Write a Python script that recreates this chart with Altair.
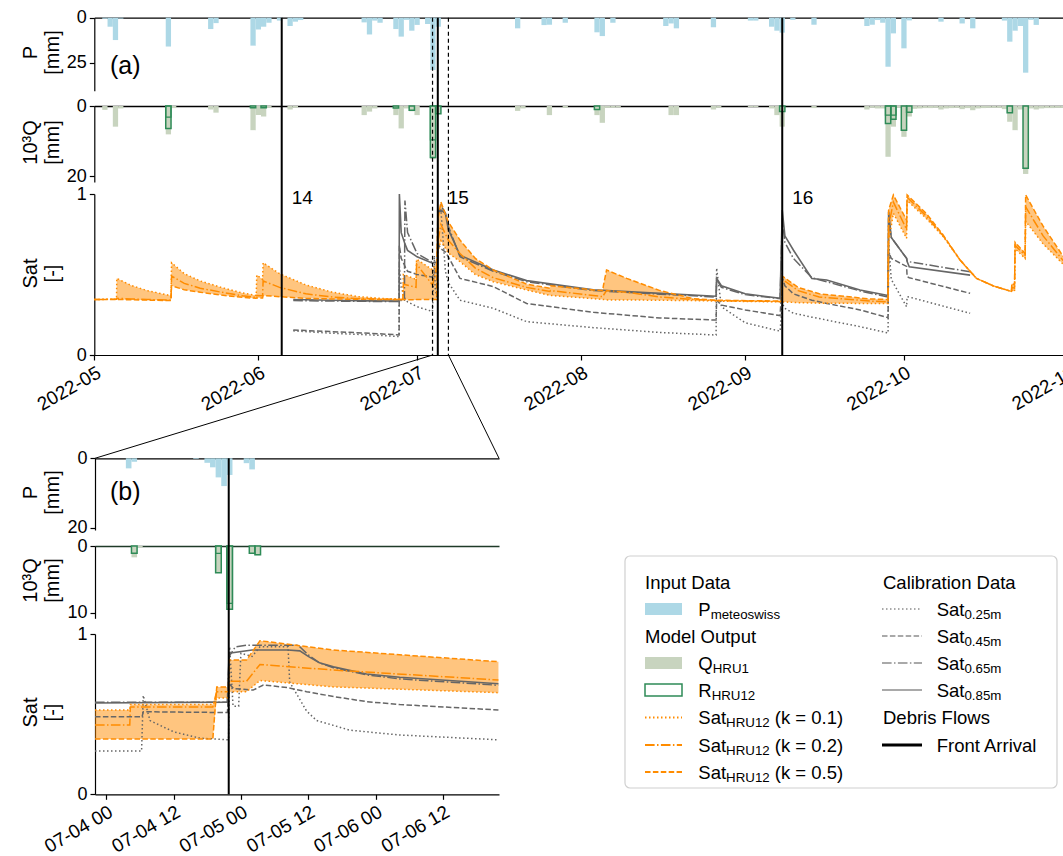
import altair as alt
import pandas as pd

FONT = "Liberation Sans"
W, H = 1063, 856

# ============================ DATA ============================
# (a) daily precipitation [mm] (bar centred on the date)
p_a_dates = ["2022-05-03", "2022-05-04", "2022-05-05", "2022-05-06", "2022-05-15", "2022-05-23", "2022-05-24",
             "2022-05-31", "2022-06-01", "2022-06-02", "2022-06-03", "2022-06-05", "2022-06-07", "2022-06-08", "2022-06-09",
             "2022-06-21", "2022-06-22", "2022-06-23", "2022-06-24", "2022-06-27", "2022-06-28", "2022-06-29", "2022-06-30",
             "2022-07-01", "2022-07-03", "2022-07-04", "2022-07-05", "2022-07-20", "2022-07-25", "2022-07-26", "2022-07-29",
             "2022-08-04", "2022-08-05", "2022-08-07", "2022-08-17", "2022-08-18", "2022-08-19", "2022-08-26",
             "2022-09-02", "2022-09-03", "2022-09-06", "2022-09-07", "2022-09-08", "2022-09-10", "2022-09-14",
             "2022-09-24", "2022-09-25", "2022-09-26", "2022-09-27", "2022-09-28", "2022-09-29", "2022-10-01", "2022-10-02",
             "2022-10-08", "2022-10-12", "2022-10-14", "2022-10-20", "2022-10-21", "2022-10-22", "2022-10-23", "2022-10-24",
             "2022-10-25", "2022-10-26"]
p_a_mm = [0.6, 5, 12.4, 0.5, 16, 6.3, 3,
          15.5, 6.5, 5, 2.8, 1.6, 4.6, 2.2, 1.3,
          2.6, 9.3, 1.6, 2.8, 6.3, 10.5, 1.2, 7.2,
          4, 3.5, 29, 5, 5.9, 4.1, 3.9, 2.8,
          8.1, 10.2, 2.8, 4.6, 3.2, 5.9, 5.3,
          1.6, 1.6, 5, 7.2, 8.3, 1.2, 3.9,
          4.6, 3.9, 1.3, 2.8, 27.2, 8.7, 17, 1.5,
          2.2, 3.2, 5.9, 1.6, 13.3, 7.2, 4.6, 30.5,
          1.2, 4]

# (a) daily runoff Q_HRU1 [10^-3 mm]
q_a_dates = ["2022-05-03", "2022-05-05", "2022-05-06", "2022-05-15", "2022-05-16", "2022-05-23", "2022-05-24",
             "2022-05-31", "2022-06-01", "2022-06-02", "2022-06-03", "2022-06-07", "2022-06-08",
             "2022-06-21", "2022-06-22", "2022-06-23", "2022-06-27", "2022-06-28", "2022-06-29", "2022-06-30", "2022-07-01",
             "2022-07-04", "2022-07-05", "2022-07-20", "2022-07-21", "2022-07-26", "2022-07-29",
             "2022-08-04", "2022-08-05", "2022-08-06", "2022-08-07", "2022-08-08", "2022-08-18", "2022-08-19",
             "2022-08-26", "2022-08-27",
             "2022-09-02", "2022-09-03", "2022-09-06", "2022-09-07", "2022-09-08", "2022-09-14",
             "2022-09-24", "2022-09-25", "2022-09-26", "2022-09-27", "2022-09-28", "2022-09-29", "2022-09-30",
             "2022-10-01", "2022-10-02", "2022-10-03", "2022-10-04", "2022-10-05", "2022-10-06", "2022-10-07",
             "2022-10-08", "2022-10-09", "2022-10-10", "2022-10-11", "2022-10-12", "2022-10-13", "2022-10-14",
             "2022-10-15", "2022-10-16", "2022-10-17", "2022-10-18", "2022-10-19", "2022-10-20", "2022-10-21",
             "2022-10-22", "2022-10-23", "2022-10-24", "2022-10-25", "2022-10-26", "2022-10-27", "2022-10-28",
             "2022-10-29", "2022-10-30", "2022-10-31"]
q_a_vals = [1.1, 5.9, 0.7, 8.1, 0.6, 1.0, 1.9,
            6.9, 2.6, 3.0, 0.5, 1.0, 0.5,
            2.6, 1.6, 0.7, 2.6, 6.4, 0.7, 1.5, 2.6,
            15.2, 2.2, 1.4, 0.7, 2.6, 0.5,
            2.6, 4.8, 0.5, 0.5, 0.4, 2.6, 2.6,
            1.0, 0.5,
            0.3, 0.3, 0.7, 2.6, 5.9, 0.6,
            1.0, 0.5, 0.7, 0.7, 14.5, 5.9, 0.5,
            8.8, 3.0, 0.8, 0.7, 0.6, 0.6, 0.5,
            1.0, 0.7, 0.6, 0.5, 0.9, 0.6, 1.2,
            0.7, 0.6, 0.5, 0.5, 0.5, 0.9, 4.5,
            6.9, 1.0, 19.4, 0.7, 1.0, 0.7, 0.6,
            0.6, 0.5, 0.5]

# (a) daily recharge R_HRU12 (outlined bars) and the smaller overlapping outlines
r_a_dates = ["2022-05-15", "2022-05-31", "2022-06-02", "2022-06-27", "2022-06-30", "2022-07-04", "2022-07-05",
             "2022-08-04", "2022-09-08", "2022-09-28", "2022-09-29", "2022-10-01", "2022-10-02", "2022-10-21", "2022-10-24"]
r_a_vals = [6.4, 0.5, 0.5, 0.6, 1.2, 14.7, 2.2, 1.0, 1.6, 5.0, 3.8, 6.9, 1.8, 1.9, 17.8]
r_a2_dates = ["2022-05-15", "2022-07-04", "2022-09-28", "2022-09-29"]
r_a2_vals = [3.2, 9.7, 2.6, 2.6]

# (a) modelled saturation, key points (days after 2022-05-01)
sat_days = [0.0, 4.2, 4.25, 7, 10, 14.5, 14.6, 17, 20, 24, 28, 30.6, 30.7, 31.8, 31.9, 35, 40, 45, 50, 55,
            58.3, 58.4, 60.8, 60.9, 63.9, 64.7, 64.8, 64.9, 65.5, 66.9, 69.1, 72, 75.4, 81.7, 86.1, 86.2, 94.3,
            96.1, 96.2, 96.8, 100.6, 106.9, 113.2, 117.6, 129.9, 130.0, 133, 137, 146.6, 150.0, 150.1, 151.0,
            153.5, 153.6, 157.3, 160.4, 163.6, 166.7, 169.9, 173.0, 173.3, 173.4, 173.9, 174.0, 175.9, 176.0,
            179.3, 183.0, 184.0]
sat_k01 = [.345, .347, .476, .432, .400, .368, .573, .505, .460, .420,
           .385, .370, .497, .470, .573, .505, .435, .390, .362, .350,
           .348, .500, .470, .595, .530, .570, .600, .640, .710, .634,
           .580, .500, .455, .404, .370, .370, .350, .345, .345, .342,
           .342, .340, .338, .335, .330, .330, .325, .322, .320, .320,
           .700, .880, .725, .960, .845, .736, .590, .476, .429, .398,
           .396, .400, .395, .660, .600, .830, .690, .567, .540]
sat_k02 = [.345, .346, .352, .348, .345, .340, .490, .445, .415, .390,
           .368, .358, .370, .368, .460, .420, .380, .360, .350, .346,
           .345, .440, .420, .565, .435, .545, .630, .700, .810, .713,
           .630, .540, .480, .420, .395, .400, .370, .362, .370, .400,
           .390, .360, .345, .338, .332, .470, .400, .360, .335, .330,
           .800, .950, .780, .980, .860, .740, .590, .476, .429, .398,
           .396, .420, .415, .680, .620, .920, .740, .590, .560]
sat_k05 = [.345, .345, .345, .343, .341, .338, .430, .405, .390, .372,
           .358, .352, .355, .354, .370, .362, .352, .348, .346, .345,
           .344, .345, .342, .345, .345, .345, .670, .840, .950, .827,
           .714, .600, .528, .440, .415, .430, .404, .400, .430, .528,
           .476, .400, .350, .340, .335, .490, .420, .380, .348, .345,
           .900, .994, .838, .994, .876, .746, .590, .476, .429, .398,
           .398, .445, .435, .700, .630, .994, .800, .617, .580]

# (a) measured saturation at four depths (days after 2022-05-01)
cal_days = [37.6, 45, 52, 57.6, 57.65, 58.0, 58.6, 58.7, 59.2, 61.0, 63.9, 64.25, 64.4, 64.85, 64.92, 65.5,
            66.35, 66.9, 69.1, 75.4, 81.7, 94.3, 106.9, 117.5, 117.6, 118.5, 123, 129.6, 130.0, 130.5, 132.1,
            135.6, 138.4, 144.7, 150.0, 150.1, 150.6, 153.5, 153.6, 154.0, 165.5]
cal_025 = [.150, .135, .125, .115, .550, .420, .360, .350, .330, .300,
           .270, .617, .420, .340, .900, .900, .520, .450, .340, .290,
           .207, .170, .140, .124, .540, .300, .200, .148, .320, .290,
           .260, .235, .217, .176, .137, .700, .470, .300, .362, .360, .259]
cal_045 = [.155, .145, .135, .125, .680, .600, .560, .550, .520, .500,
           .484, .515, .515, .510, .690, .660, .640, .610, .476, .425,
           .320, .265, .230, .217, .340, .310, .280, .245, .480, .430,
           .380, .340, .320, .280, .232, .640, .600, .550, .487, .480, .383]
cal_065 = [.338, .335, .333, .332, .332, .340, .340, .960, .760, .630,
           .575, .575, .575, .575, .880, .930, .880, .800, .610, .520,
           .455, .400, .378, .360, .470, .420, .375, .350, .850, .700,
           .600, .480, .455, .398, .360, .850, .730, .600, .585, .579, .517]
cal_085 = [.345, .340, .336, .335, 1.00, .760, .700, .690, .650, .610,
           .570, .575, .575, .575, .880, .900, .880, .780, .620, .528,
           .462, .405, .383, .365, .476, .430, .380, .352, .900, .740,
           .652, .475, .466, .404, .369, .890, .730, .600, .580, .548, .496]

event_times = ["2022-06-05 10:00", "2022-07-04 21:50", "2022-09-08 00:00"]
event_labels = ["14", "15", "16"]
zoom_window = ["2022-07-03 22:00", "2022-07-06 22:00"]

# (b) hourly values, hours after 2022-07-04 00:00
p_b_hours = [4, 5, 16, 18, 19, 20, 21, 22, 25, 26]
p_b_mm = [2.9, 1.0, 0.2, 1.3, 2.6, 5.5, 8.0, 4.8, 1.4, 3.2]
q_b_hours = [5, 6, 20, 22, 26, 27]
q_b_vals = [1.7, 0.2, 3.9, 9.6, 1.2, 1.4]
r_b_hours = [5, 20, 22, 26, 27]
r_b_vals = [1.1, 4.0, 9.5, 1.1, 1.3]
r_b2_hours = [20, 22]
r_b2_vals = [1.1, 8.6]

satb_hours = [-2.0, 4.2, 4.3, 19.0, 19.7, 21.8, 21.9, 25.0, 27.4, 40.5, 69.9]
satb_k01 = [.526, .526, .560, .560, .600, .600, .640, .640, .710, .670, .634]
satb_k02 = [.432, .432, .545, .545, .640, .640, .705, .705, .810, .775, .713]
satb_k05 = [.345, .345, .345, .345, .670, .670, .838, .838, .958, .900, .827]

calb_025_h = [-2, 6.3, 6.6, 7.8, 12, 16.7, 21.8, 22.0, 22.6, 23.6, 24.0, 26.0, 27.4, 32.4, 32.7, 35.7, 37.5,
              40.5, 43.4, 52.3, 69.9]
calb_025 = [.27, .27, .617, .46, .39, .35, .34, .92, .55, .55, .88, .86, .92, .92, .70, .52, .46, .43, .40, .37, .34]
calb_045_h = [-2, 6.4, 6.6, 21.6, 21.9, 22.7, 26.2, 28.0, 32.4, 35.7, 40.5, 46.4, 52.3, 69.9]
calb_045 = [.484, .484, .515, .51, .69, .66, .65, .682, .665, .64, .61, .578, .56, .526]
calb_065_h = [-2, 21.6, 21.9, 23, 25, 34.2, 36, 38, 40.5, 46.4, 52.3, 69.9]
calb_065 = [.575, .575, .86, .92, .93, .93, .87, .82, .79, .745, .72, .68]
calb_085_h = [-2, 21.6, 21.9, 26, 32.4, 34.5, 36, 38, 40.5, 46.4, 52.3, 69.9]
calb_085 = [.57, .575, .88, .90, .90, .895, .86, .82, .795, .75, .73, .69]

# ============================ LAYOUT ============================
A_X = (94.3, 1068.0)
A_P = (17.7, 90.7)
A_Q = (106.0, 182.0)
A_S = (355.0, 194.0)
B_X = (95.0, 499.0)
B_P = (458.3, 530.0)
B_Q = (546.0, 618.3)
B_S = (794.3, 634.0)
TITLE_X = 30.5

C_P = "#add8e6"
C_Q = "#c8d4bf"
C_R = "#2e8b57"
C_OR = "#ff8c00"
C_GR = "#666666"
C_GR_LEG = "#a9a9a9"
DOT = [1.5, 2.5]
DASH = [5.5, 2.4]
DASHDOT = [9.6, 2.4, 1.5, 2.4]

A_START, A_END = pd.Timestamp("2022-05-01"), pd.Timestamp("2022-11-01")
B_START, B_END = pd.Timestamp(zoom_window[0]), pd.Timestamp(zoom_window[1])
B_REF = pd.Timestamp("2022-07-04 00:00")


def dt(ts):
    ts = pd.Timestamp(ts)
    return alt.DateTime(year=ts.year, month=ts.month, date=ts.day, hours=ts.hour, minutes=ts.minute)


def xa_px(ts):
    ts = pd.Timestamp(ts)
    return A_X[0] + (ts - A_START) / (A_END - A_START) * (A_X[1] - A_X[0])


xa = alt.Scale(domain=[dt(A_START), dt(A_END)], range=list(A_X), nice=False)
xb = alt.Scale(domain=[dt(B_START), dt(B_END)], range=list(B_X), nice=False)
ya_p = alt.Scale(domain=[0, 40.5], range=list(A_P), nice=False, zero=False)
ya_q = alt.Scale(domain=[0, 21.7], range=list(A_Q), nice=False, zero=False)
ya_s = alt.Scale(domain=[0, 1], range=list(A_S), nice=False, zero=False)
yb_p = alt.Scale(domain=[0, 20.66], range=list(B_P), nice=False, zero=False)
yb_q = alt.Scale(domain=[0, 10.84], range=list(B_Q), nice=False, zero=False)
yb_s = alt.Scale(domain=[0, 1], range=list(B_S), nice=False, zero=False)

LBL = 18
TTL = 20


def yaxis(values, title, title_y, x0):
    return alt.Axis(orient="left", offset=-x0, values=values, format="d", title=title,
                    titleX=TITLE_X - x0, titleY=title_y, titleAngle=270, titleAlign="center",
                    titleBaseline="middle", titleLineHeight=22, titleFontSize=TTL, titleFontWeight="normal",
                    titleColor="black", titleFont=FONT, labelFontSize=LBL, labelColor="black", labelFont=FONT,
                    labelPadding=3, tickSize=5, tickColor="black", tickWidth=1.2, domainColor="black",
                    domainWidth=1.2, grid=False, labelFlush=False, labelOverlap=False)


def xaxis_top(y, color="black"):
    return alt.Axis(orient="top", offset=-y, labels=False, ticks=False, title=None, grid=False,
                    domainColor=color, domainWidth=1.3)


def xaxis_bottom(y, values, fmt):
    return alt.Axis(orient="bottom", offset=y - H, values=values, format=fmt, labelAngle=330,
                    labelAlign="right", labelBaseline="top", labelFontSize=19, labelFont=FONT,
                    labelColor="black", labelPadding=3, labelFlush=False, labelOverlap=False,
                    tickSize=5, tickColor="black", tickWidth=1.2, domainColor="black", domainWidth=1.2,
                    grid=False, title=None)


def day_bars(dates, vals):
    c = pd.to_datetime(pd.Series(dates))
    return pd.DataFrame({"t0": c - pd.Timedelta(hours=12), "t1": c + pd.Timedelta(hours=12), "v": vals})


def hour_bars(hours, vals):
    c = B_REF + pd.to_timedelta(pd.Series(hours, dtype=float), unit="h")
    return pd.DataFrame({"t0": c - pd.Timedelta(minutes=30), "t1": c + pd.Timedelta(minutes=30), "v": vals})


def bars(df, xs, ys, xaxis=None, yaxis_=None, **mark):
    return alt.Chart(df).mark_bar(**mark).encode(
        x=alt.X("t0:T", scale=xs, axis=xaxis), x2="t1:T",
        y=alt.Y("v:Q", scale=ys, axis=yaxis_), y2=alt.datum(0))


def line(df, col, xs, ys, color, width, dash=None):
    m = dict(color=color, strokeWidth=width)
    if dash:
        m["strokeDash"] = dash
    return alt.Chart(df).mark_line(**m).encode(
        x=alt.X("t:T", scale=xs, axis=None), y=alt.Y(f"{col}:Q", scale=ys, axis=None))


one = pd.DataFrame({"k": [0]})


def text(x, y, s, size, align="left", baseline="alphabetic"):
    return alt.Chart(one).mark_text(text=s, fontSize=size, font=FONT, align=align, baseline=baseline,
                                    color="black").encode(x=alt.value(x), y=alt.value(y))


def hrule(x0, x1, y, color, width, dash=None):
    m = dict(color=color, strokeWidth=width)
    if dash:
        m["strokeDash"] = dash
    return alt.Chart(one).mark_rule(**m).encode(x=alt.value(x0), x2=alt.value(x1), y=alt.value(y))


# ----------------------------- frames ---------------------------
mod_a = pd.DataFrame({"t": A_START + pd.to_timedelta(pd.Series(sat_days, dtype=float), unit="D"),
                      "k01": sat_k01, "k02": sat_k02, "k05": sat_k05})
mod_a["lo"] = mod_a[["k01", "k02", "k05"]].min(axis=1)
mod_a["hi"] = mod_a[["k01", "k02", "k05"]].max(axis=1)
cal_a = pd.DataFrame({"t": A_START + pd.to_timedelta(pd.Series(cal_days, dtype=float), unit="D"),
                      "g25": cal_025, "g45": cal_045, "g65": cal_065, "g85": cal_085})
mod_b = pd.DataFrame({"t": B_REF + pd.to_timedelta(pd.Series(satb_hours, dtype=float), unit="h"),
                      "k01": satb_k01, "k02": satb_k02, "k05": satb_k05})
mod_b["lo"] = mod_b[["k01", "k02", "k05"]].min(axis=1)
mod_b["hi"] = mod_b[["k01", "k02", "k05"]].max(axis=1)


def cal_b(hours, vals):
    return pd.DataFrame({"t": B_REF + pd.to_timedelta(pd.Series(hours, dtype=float), unit="h"), "v": vals})


ev = pd.DataFrame({"t": pd.to_datetime(event_times), "label": event_labels})
win = pd.DataFrame({"t": pd.to_datetime(zoom_window)})
ev_b = ev[(ev["t"] > B_START) & (ev["t"] < B_END)]

months = [dt(f"2022-{m:02d}-01") for m in range(5, 12)]
hours_b = [dt(B_REF + pd.Timedelta(hours=h)) for h in (0, 12, 24, 36, 48, 60)]

layers = []
# ---------------- panel (a) ----------------
layers.append(bars(day_bars(p_a_dates, p_a_mm), xa, ya_p, xaxis_top(A_P[0]),
                   yaxis([0, 25], ["P", "[mm]"], 52, A_X[0]), color=C_P))
layers.append(bars(day_bars(q_a_dates, q_a_vals), xa, ya_q, xaxis_top(A_Q[0]),
                   yaxis([0, 20], ["10³Q", "[mm]"], 142, A_X[0]), color=C_Q))
layers.append(bars(day_bars(r_a_dates, r_a_vals), xa, ya_q, None, None,
                   fill="white", fillOpacity=0, stroke=C_R, strokeWidth=1.5))
layers.append(bars(day_bars(r_a2_dates, r_a2_vals), xa, ya_q, None, None,
                   fill="white", fillOpacity=0, stroke=C_R, strokeWidth=1.2))
layers.append(alt.Chart(mod_a).mark_area(color=C_OR, opacity=0.5).encode(
    x=alt.X("t:T", scale=xa, axis=xaxis_bottom(A_S[0], months, "%Y-%m")),
    y=alt.Y("lo:Q", scale=ya_s, axis=yaxis([0, 1], ["Sat", "[-]"], 273, A_X[0])), y2="hi:Q"))
layers += [line(cal_a, "g25", xa, ya_s, C_GR, 1.5, DOT),
           line(cal_a, "g45", xa, ya_s, C_GR, 1.5, DASH),
           line(cal_a, "g65", xa, ya_s, C_GR, 1.5, DASHDOT),
           line(cal_a, "g85", xa, ya_s, C_GR, 1.6)]
layers += [line(mod_a, "k01", xa, ya_s, C_OR, 1.5, DOT),
           line(mod_a, "k02", xa, ya_s, C_OR, 1.5, DASHDOT),
           line(mod_a, "k05", xa, ya_s, C_OR, 1.5, DASH)]
layers.append(alt.Chart(ev).mark_rule(color="black", strokeWidth=2).encode(
    x=alt.X("t:T", scale=xa, axis=None), y=alt.value(A_P[0]), y2=alt.value(A_S[0])))
layers.append(alt.Chart(win).mark_rule(color="black", strokeWidth=1.2, strokeDash=[4, 3]).encode(
    x=alt.X("t:T", scale=xa, axis=None), y=alt.value(A_P[0]), y2=alt.value(A_S[0])))
layers.append(alt.Chart(ev).mark_text(dx=10, align="left", baseline="alphabetic", fontSize=19, font=FONT,
                                      color="black").encode(
    x=alt.X("t:T", scale=xa, axis=None), y=alt.value(203.5), text="label:N"))
layers.append(text(110, 73.5, "(a)", 25))

# ---------------- connectors ----------------
layers.append(alt.Chart(one).mark_rule(color="black", strokeWidth=1).encode(
    x=alt.value(xa_px(B_START)), y=alt.value(A_S[0]), x2=alt.value(B_X[0]), y2=alt.value(B_P[0])))
layers.append(alt.Chart(one).mark_rule(color="black", strokeWidth=1).encode(
    x=alt.value(xa_px(B_END)), y=alt.value(A_S[0]), x2=alt.value(B_X[1]), y2=alt.value(B_P[0])))

# ---------------- panel (b) ----------------
layers.append(bars(hour_bars(p_b_hours, p_b_mm), xb, yb_p, xaxis_top(B_P[0]),
                   yaxis([0, 20], ["P", "[mm]"], 492, B_X[0]), color=C_P))
layers.append(bars(hour_bars(q_b_hours, q_b_vals), xb, yb_q, xaxis_top(B_Q[0], "#1f3a28"),
                   yaxis([0, 10], ["10³Q", "[mm]"], 580, B_X[0]), color=C_Q))
layers.append(bars(hour_bars(r_b_hours, r_b_vals), xb, yb_q, None, None,
                   fill="white", fillOpacity=0, stroke=C_R, strokeWidth=1.5))
layers.append(bars(hour_bars(r_b2_hours, r_b2_vals), xb, yb_q, None, None,
                   fill="white", fillOpacity=0, stroke=C_R, strokeWidth=1.2))
layers.append(alt.Chart(mod_b).mark_area(color=C_OR, opacity=0.5).encode(
    x=alt.X("t:T", scale=xb, axis=xaxis_bottom(B_S[0], hours_b, "%m-%d %H")),
    y=alt.Y("lo:Q", scale=yb_s, axis=yaxis([0, 1], ["Sat", "[-]"], 712, B_X[0])), y2="hi:Q"))
layers += [line(cal_b(calb_025_h, calb_025), "v", xb, yb_s, C_GR, 1.5, DOT),
           line(cal_b(calb_045_h, calb_045), "v", xb, yb_s, C_GR, 1.5, DASH),
           line(cal_b(calb_065_h, calb_065), "v", xb, yb_s, C_GR, 1.5, DASHDOT),
           line(cal_b(calb_085_h, calb_085), "v", xb, yb_s, C_GR, 1.6)]
layers += [line(mod_b, "k01", xb, yb_s, C_OR, 1.5, DOT),
           line(mod_b, "k02", xb, yb_s, C_OR, 1.5, DASHDOT),
           line(mod_b, "k05", xb, yb_s, C_OR, 1.5, DASH)]
layers.append(alt.Chart(ev_b).mark_rule(color="black", strokeWidth=2).encode(
    x=alt.X("t:T", scale=xb, axis=None), y=alt.value(B_P[0]), y2=alt.value(B_S[0])))
layers.append(text(110, 500, "(b)", 25))

# ---------------- legend ----------------
AW = {"S": .667, "a": .556, "t": .278, "P": .667, "Q": .778, "R": .722, "H": .722, "U": .722, "1": .556,
      "2": .556, "0": .556, ".": .278, "5": .556, "4": .556, "6": .556, "8": .556, "m": .833, "e": .556,
      "o": .556, "s": .5, "w": .722, "i": .222, " ": .278, "(": .333, ")": .333, "k": .5, "=": .584}


def tw(s, size):
    return sum(AW.get(c, .556) for c in s) * size


LEG, SUB = 18.5, 13.3
ROWS = [582, 609, 636, 663, 690, 717.5, 745, 772]
BL = 6.5  # baseline below row centre
C1H, C1S0, C1S1, C1L = 645, 645, 682, 698.3
C2H, C2S0, C2S1, C2L = 883, 882, 922, 936.7


def sub_label(x, y, main, sub, tail=""):
    out = [text(x, y + BL, main, LEG)]
    xs = x + tw(main, LEG)
    out.append(text(xs, y + BL + 3, sub, SUB))
    if tail:
        out.append(text(xs + tw(sub, SUB) + tw(" ", LEG), y + BL, tail, LEG))
    return out


layers.append(alt.Chart(one).mark_rect(fill="white", stroke="#d0d0d0", strokeWidth=1.2, cornerRadius=5).encode(
    x=alt.value(625), x2=alt.value(1057), y=alt.value(556), y2=alt.value(788)))
layers.append(text(C1H, ROWS[0] + BL, "Input Data", LEG))
layers.append(alt.Chart(one).mark_rect(fill=C_P).encode(
    x=alt.value(C1S0), x2=alt.value(C1S1), y=alt.value(ROWS[1] - 6), y2=alt.value(ROWS[1] + 6)))
layers += sub_label(C1L, ROWS[1], "P", "meteoswiss")
layers.append(text(C1H, ROWS[2] + BL, "Model Output", LEG))
layers.append(alt.Chart(one).mark_rect(fill=C_Q).encode(
    x=alt.value(C1S0), x2=alt.value(C1S1), y=alt.value(ROWS[3] - 6), y2=alt.value(ROWS[3] + 6)))
layers += sub_label(C1L, ROWS[3], "Q", "HRU1")
layers.append(alt.Chart(one).mark_rect(fill="white", stroke=C_R, strokeWidth=1.5).encode(
    x=alt.value(C1S0), x2=alt.value(C1S1), y=alt.value(ROWS[4] - 6), y2=alt.value(ROWS[4] + 6)))
layers += sub_label(C1L, ROWS[4], "R", "HRU12")
for r, dash, k in ((5, DOT, "0.1"), (6, DASHDOT, "0.2"), (7, DASH, "0.5")):
    layers.append(hrule(C1S0, C1S1, ROWS[r], C_OR, 1.8, dash))
    layers += sub_label(C1L, ROWS[r], "Sat", "HRU12", f"(k = {k})")

layers.append(text(C2H, ROWS[0] + BL, "Calibration Data", LEG))
for r, dash, d in ((1, DOT, "0.25m"), (2, DASH, "0.45m"), (3, DASHDOT, "0.65m"), (4, None, "0.85m")):
    layers.append(hrule(C2S0, C2S1, ROWS[r], C_GR_LEG, 1.8, dash))
    layers += sub_label(C2L, ROWS[r], "Sat", d)
layers.append(text(C2H, ROWS[5] + BL, "Debris Flows", LEG))
layers.append(hrule(C2S0, C2S1, ROWS[6], "black", 3))
layers.append(text(C2L, ROWS[6] + BL, "Front Arrival", LEG))

chart = alt.layer(*layers).resolve_scale(x="independent", y="independent").properties(
    width=W, height=H, autosize=alt.AutoSizeParams(type="none"), padding=0, background="white"
).configure_view(stroke=None)

chart.save("out.html", embed_options={"renderer": "svg", "actions": False})
